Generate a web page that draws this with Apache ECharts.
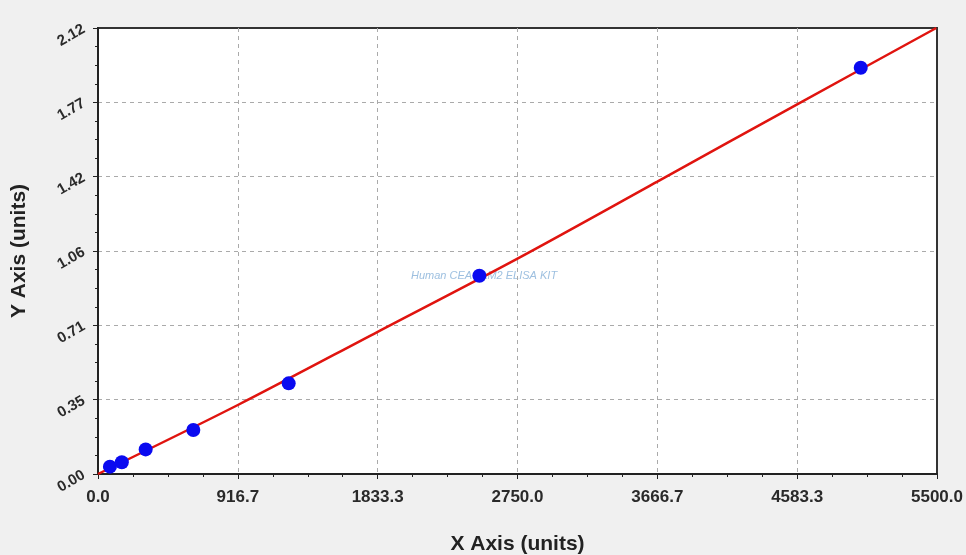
<!DOCTYPE html>
<html>
<head>
<meta charset="utf-8">
<script src="https://cdn.jsdelivr.net/npm/echarts@6/dist/echarts.min.js"></script>
<style>
html,body{margin:0;padding:0;background:#f0f0f0;}
#chart{width:966px;height:555px;}
</style>
</head>
<body>
<div id="chart"></div>
<script>
// Standard points (concentration, OD)
const standardX = [78.125, 156.25, 312.5, 625, 1250, 2500, 5000];
const standardY = [0.035, 0.056, 0.117, 0.209, 0.431, 0.942, 1.931];
// Fitted curve
const curveX = [0, 916.7, 1833.3, 2750, 3666.7, 4583.3, 5495];
const curveY = [0.0, 0.328, 0.676, 1.024, 1.39, 1.757, 2.12];
// Tick labels
const xTickLabels = ['0.0', '916.7', '1833.3', '2750.0', '3666.7', '4583.3', '5500.0'];
const yTickLabels = ['0.00', '0.35', '0.71', '1.06', '1.42', '1.77', '2.12'];
const xMax = 5500, yMax = 2.12;
const watermark = 'Human CEACAM2 ELISA KIT';

const xInt = xMax / 6, yInt = yMax / 6;
const chart = echarts.init(document.getElementById('chart'));
const font = '"Liberation Sans", Arial, sans-serif';
chart.setOption({
  backgroundColor: '#f0f0f0',
  animation: false,
  grid: {left: 98, right: 29, top: 28, bottom: 81, show: true, outerBoundsMode: 'none', containLabel: false,
         backgroundColor: '#ffffff', borderColor: '#333', borderWidth: 2},
  xAxis: {
    type: 'value', min: 0, max: xMax, interval: xInt,
    name: 'X Axis (units)', nameLocation: 'middle', nameGap: 60,
    nameTextStyle: {fontFamily: font, fontWeight: 'bold', fontSize: 21, color: '#222'},
    axisLine: {lineStyle: {color: '#222', width: 2}},
    axisTick: {show: true, length: 5, lineStyle: {color: '#222'}},
    minorTick: {show: true, splitNumber: 4, length: 3, lineStyle: {color: '#222'}},
    axisLabel: {margin: 15, fontFamily: font, fontWeight: 'bold', fontSize: 17, color: '#2a2a2a',
      formatter: v => xTickLabels[Math.round(v / xInt)] ?? ''},
    splitLine: {show: true, showMinLine: false, showMaxLine: false, lineStyle: {color: '#aaa', type: [4, 4]}}
  },
  yAxis: {
    type: 'value', min: 0, max: yMax, interval: yInt,
    name: 'Y Axis (units)', nameLocation: 'middle', nameGap: 68, nameRotate: 90,
    nameTextStyle: {fontFamily: font, fontWeight: 'bold', fontSize: 21, color: '#222'},
    axisLine: {show: true, lineStyle: {color: '#222', width: 2}},
    axisTick: {show: true, length: 5, lineStyle: {color: '#222'}},
    minorTick: {show: true, splitNumber: 4, length: 3, lineStyle: {color: '#222'}},
    axisLabel: {margin: 14, rotate: 30, fontFamily: font, fontWeight: 'bold', fontSize: 15, color: '#2a2a2a',
      formatter: v => yTickLabels[Math.round(v / yInt)] ?? ''},
    splitLine: {show: true, showMinLine: false, showMaxLine: false, lineStyle: {color: '#aaa', type: [4, 4]}}
  },
  graphic: [{
    type: 'text', left: 411, top: 270, z: 0,
    style: {text: watermark, fill: '#9ec0e0', font: 'italic 11px "Liberation Sans", sans-serif'}
  }],
  series: [
    {type: 'line', data: curveX.map((x, i) => [x, curveY[i]]), smooth: 0.3,
     showSymbol: false, symbol: 'none', lineStyle: {color: '#e0140f', width: 2.5}, z: 3},
    {type: 'scatter', data: standardX.map((x, i) => [x, standardY[i]]), symbolSize: 14,
     itemStyle: {color: '#0a0af0', opacity: 1}, z: 4}
  ]
});
</script>
</body>
</html>
